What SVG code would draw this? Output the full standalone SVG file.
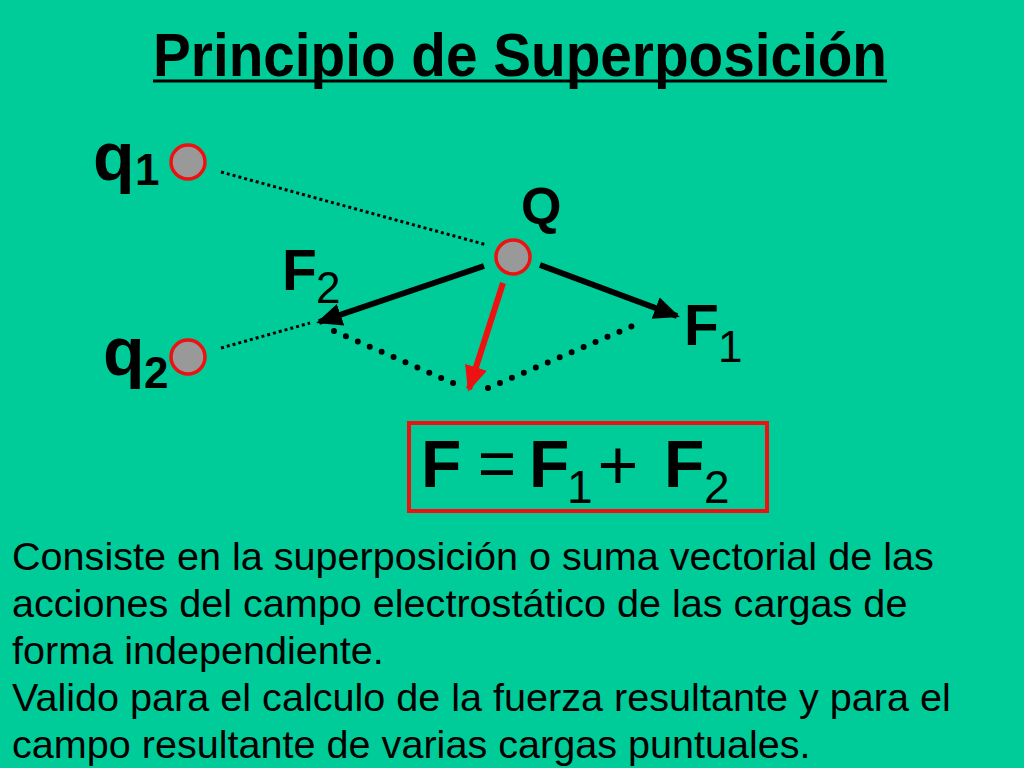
<svg xmlns="http://www.w3.org/2000/svg" width="1024" height="768" viewBox="0 0 1024 768">
<defs>
<style>
.t{font-family:"Liberation Sans",Arial,sans-serif;fill:#000}
.b{font-weight:bold}
.charge{fill:#999999;stroke:#ee1111;stroke-width:3.5}
.thin{stroke:#000;stroke-width:3;stroke-dasharray:3 3;fill:none}
.dots{stroke:#000;stroke-width:6;stroke-linecap:round;stroke-dasharray:0 13;fill:none}
.vec{stroke:#000;stroke-width:6;fill:none}
.res{stroke:#ee1111;stroke-width:6;fill:none}
</style>
<marker id="ab" markerWidth="5" markerHeight="4" refX="3.8" refY="1.9" orient="auto" markerUnits="strokeWidth">
<path d="M0,0 L4.3,1.9 L0,3.8 z" fill="#000"/>
</marker>
<marker id="ar" markerWidth="5" markerHeight="4" refX="3.8" refY="1.9" orient="auto" markerUnits="strokeWidth">
<path d="M0,0 L4.3,1.9 L0,3.8 z" fill="#ee1111"/>
</marker>
</defs>
<rect width="1024" height="768" fill="#00cc99"/>

<g id="title">
<text class="t b" x="153" y="76" font-size="61" textLength="734" lengthAdjust="spacingAndGlyphs">Principio de Superposición</text>
<line x1="153" y1="81" x2="887" y2="81" stroke="#000" stroke-width="3"/>
</g>

<g id="connectors">
<line class="thin" x1="221" y1="172" x2="487" y2="245"/>
<line class="thin" x1="221" y1="348" x2="310" y2="323"/>
<line class="dots" x1="334" y1="331" x2="462" y2="387"/>
<line class="dots" x1="488" y1="388" x2="642" y2="322"/>
<line class="vec" x1="484" y1="266" x2="319" y2="322" marker-end="url(#ab)"/>
<line class="vec" x1="540" y1="265" x2="677" y2="316" marker-end="url(#ab)"/>
<line class="res" x1="503" y1="283" x2="469" y2="389" marker-end="url(#ar)"/>
</g>

<g id="q1">
<circle class="charge" cx="188" cy="162" r="17"/>
<text class="t b" x="93" y="180" font-size="68">q</text>
<text class="t b" x="135" y="185" font-size="44">1</text>
</g>

<g id="q2">
<circle class="charge" cx="188" cy="357" r="17"/>
<text class="t b" x="103" y="375" font-size="68">q</text>
<text class="t b" x="144" y="388" font-size="44">2</text>
</g>

<g id="Q">
<circle class="charge" cx="513" cy="257" r="17"/>
<text class="t b" x="521" y="224" font-size="52">Q</text>
</g>

<g id="F2">
<text class="t b" x="282" y="290" font-size="57">F</text>
<text class="t" x="316" y="303" font-size="44">2</text>
</g>

<g id="F1">
<text class="t b" x="684" y="345" font-size="57">F</text>
<text class="t" x="718" y="362" font-size="44">1</text>
</g>

<g id="formula">
<rect x="409" y="423" width="358" height="88" fill="none" stroke="#ee1111" stroke-width="4"/>
<text class="t b" x="421" y="487" font-size="66">F</text>
<text class="t" x="497" y="486" font-size="66" text-anchor="middle">=</text>
<text class="t b" x="529" y="487" font-size="66">F</text>
<text class="t" x="567" y="503" font-size="46">1</text>
<text class="t" x="618" y="489" font-size="70" text-anchor="middle">+</text>
<text class="t b" x="664" y="487" font-size="66">F</text>
<text class="t" x="704" y="503" font-size="46">2</text>
</g>

<g id="body">
<text class="t" x="12" y="570" font-size="39.6">Consiste en la superposición o suma vectorial de las</text>
<text class="t" x="12" y="617" font-size="39.6">acciones del campo electrostático de las cargas de</text>
<text class="t" x="12" y="664" font-size="39.6">forma independiente.</text>
<text class="t" x="12" y="711" font-size="39.6">Valido para el calculo de la fuerza resultante y para el</text>
<text class="t" x="12" y="758" font-size="39.6">campo resultante de varias cargas puntuales.</text>
</g>
</svg>
